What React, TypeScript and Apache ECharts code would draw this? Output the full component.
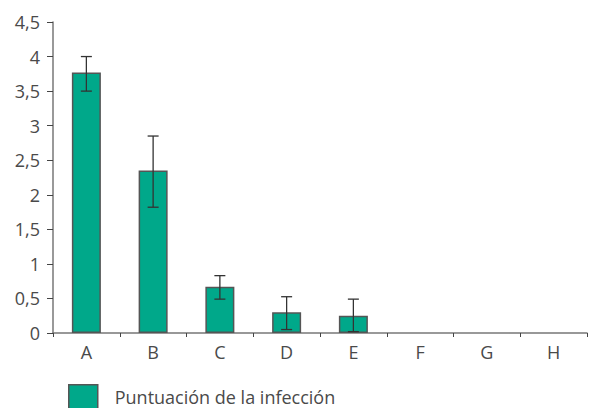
import React, { useEffect, useRef } from "react";
import * as echarts from "echarts";

const categories = ["A", "B", "C", "D", "E", "F", "G", "H"];
const scores = [3.77, 2.35, 0.67, 0.3, 0.25, 0, 0, 0];
const errLow = [3.5, 1.82, 0.49, 0.05, 0.02, null, null, null];
const errHigh = [4.0, 2.85, 0.83, 0.525, 0.49, null, null, null];
const seriesName = "Puntuación de la infección";

export default function App() {
  const ref = useRef<HTMLDivElement>(null);
  useEffect(() => {
    if (!ref.current) return;
    const chart = echarts.init(ref.current, null, { renderer: "svg" });
    const errData = categories
      .map((c, i) => (errLow[i] == null ? null : [i, errLow[i], errHigh[i]]))
      .filter((d) => d !== null);
    const font = "'Open Sans', sans-serif";
    const labelColor = "#4a4a4a";
    chart.setOption({
      animation: false,
      textStyle: { fontFamily: font },
      grid: { left: 53, right: 5, top: 22, bottom: 75, containLabel: false },
      legend: {
        left: 68,
        top: 384,
        padding: 0,
        icon: "rect",
        itemWidth: 29,
        itemHeight: 24,
        itemGap: 10,
        data: [seriesName],
        itemStyle: { borderColor: "#555", borderWidth: 1.5 },
        textStyle: { fontSize: 18, color: labelColor, fontFamily: font, padding: [0, 0, 0, 12] },
      },
      xAxis: {
        type: "category",
        data: categories,
        axisLine: { lineStyle: { color: "#777", width: 1.5 } },
        axisTick: { show: true, length: 4, lineStyle: { color: "#444" } },
        axisLabel: { fontSize: 18, color: labelColor, margin: 10, fontFamily: font },
      },
      yAxis: {
        type: "value",
        min: 0,
        max: 4.5,
        interval: 0.5,
        axisLine: { show: true, lineStyle: { color: "#777", width: 1.5 } },
        axisTick: { show: true, length: 6, lineStyle: { color: "#444" } },
        splitLine: { show: false },
        axisLabel: {
          fontSize: 18,
          color: labelColor,
          margin: 13,
          fontFamily: font,
          formatter: (v: number) => String(v).replace(".", ","),
        },
      },
      series: [
        {
          name: seriesName,
          type: "bar",
          data: scores.map((v) => (v === 0 ? null : v)),
          barWidth: 29,
          itemStyle: { color: "#00a88a", borderColor: "#555", borderWidth: 1.5 },
        },
        {
          type: "custom",
          name: "error",
          data: errData,
          z: 10,
          renderItem: (params: any, api: any) => {
            const x = api.value(0);
            const lo = api.coord([x, api.value(1)]);
            const hi = api.coord([x, api.value(2)]);
            const hw = 5.5;
            const style = { stroke: "#333", lineWidth: 1.3 };
            return {
              type: "group",
              children: [
                { type: "line", shape: { x1: lo[0], y1: lo[1], x2: hi[0], y2: hi[1] }, style },
                { type: "line", shape: { x1: hi[0] - hw, y1: hi[1], x2: hi[0] + hw, y2: hi[1] }, style },
                { type: "line", shape: { x1: lo[0] - hw, y1: lo[1], x2: lo[0] + hw, y2: lo[1] }, style },
              ],
            };
          },
        },
      ],
    });
    return () => chart.dispose();
  }, []);
  return (
    <div
      ref={ref}
      style={{ position: "absolute", left: 0, top: 0, width: 592, height: 408 }}
    />
  );
}
